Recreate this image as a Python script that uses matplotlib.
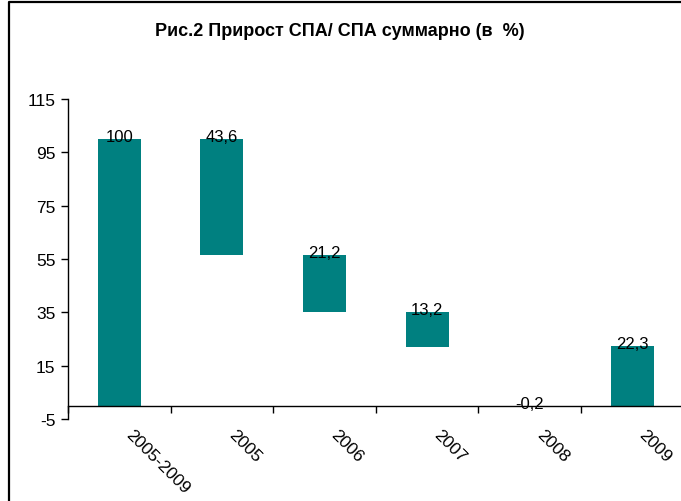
import numpy as np
import matplotlib
matplotlib.use('Agg')
import matplotlib.pyplot as plt
from matplotlib.lines import Line2D
import matplotlib.transforms as mtransforms

# данные диаграммы
categories = ['2005-2009', '2005', '2006', '2007', '2008', '2009']
values = [100.0, 43.6, 21.2, 13.2, -0.2, 22.3]
bases = [0.0, 56.4, 35.2, 22.0, 0.0, 0.0]
y_ticks = [-5, 15, 35, 55, 75, 95, 115]

teal = '#008080'
plt.rcParams['font.family'] = ['Liberation Sans', 'DejaVu Sans']

fig = plt.figure(figsize=(6.81, 5.02), dpi=100)
fig.patch.set_facecolor('white')

# оси в пикселях исходной картинки
W, H = 681, 502
ax = fig.add_axes([68 / W, 1 - 420 / H, (683.6 - 68) / W, 320 / H])

# сначала спайны: set_position сбрасывает тики
ax.spines['top'].set_visible(False)
ax.spines['right'].set_visible(False)
ax.spines['bottom'].set_position(('data', 0))
ax.spines['bottom'].set_zorder(3)
for s in ('left', 'bottom'):
    ax.spines[s].set_linewidth(1)

x = np.arange(len(categories))
ax.bar(x, values, bottom=bases, width=0.42, color=teal, zorder=2)

for xi, v, b in zip(x, values, bases):
    top = max(b, b + v)
    lbl = f'{v:g}'.replace('.', ',')
    ax.annotate(lbl, (xi, top), xytext=(0, -1.5), textcoords='offset points',
                ha='center', va='baseline', fontsize=12, color='black')

ax.set_xlim(-0.5, len(categories) - 0.5)
ax.set_ylim(-5, 115)

ax.tick_params(axis='x', which='major', length=0, pad=15,
               labelsize=12.5, labelrotation=-45)
ax.tick_params(axis='x', which='minor', direction='out', length=5, width=1)
ax.tick_params(axis='y', direction='out', length=5, width=1, pad=4,
               labelsize=12.5)

ax.set_yticks(y_ticks, [str(t) for t in y_ticks])
# подписи по центрам категорий, деления на границах
ax.set_xticks(x, categories)
ax.set_xticks(np.arange(len(categories) + 1) - 0.5, minor=True)

offset = mtransforms.ScaledTranslation(4 / 100, 0, fig.dpi_scale_trans)
for lab in ax.get_xticklabels():
    lab.set_rotation_mode('default')
    lab.set_ha('left')
    lab.set_va('top')
    lab.set_transform(lab.get_transform() + offset)

fig.text(340 / W, 1 - 32 / H, 'Рис.2 Прирост СПА/ СПА суммарно (в  %)',
         ha='center', va='center', fontsize=13, fontweight='bold')

# рамка области диаграммы
fig.add_artist(Line2D([9 / W, 9 / W, 1], [0, 1 - 3 / H, 1 - 3 / H],
                      transform=fig.transFigure, color='black', linewidth=1.6))

fig.savefig('out.png', dpi=100)
